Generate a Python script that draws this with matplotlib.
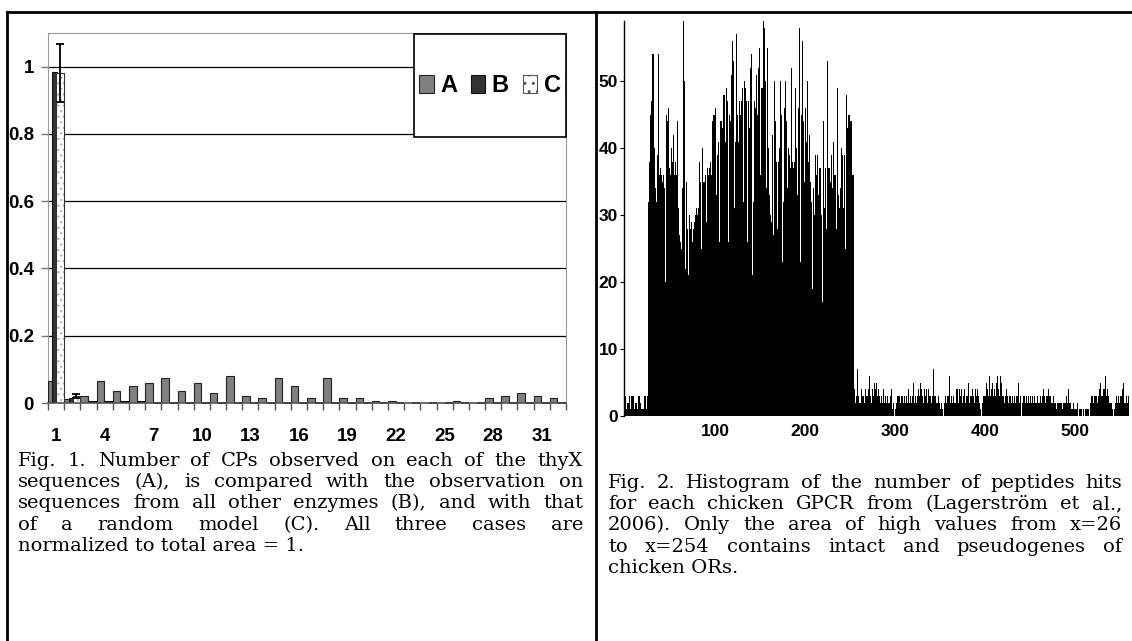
import matplotlib
matplotlib.use("Agg")
import matplotlib.pyplot as plt
import numpy as np
from matplotlib.patches import Rectangle, Patch
from matplotlib.lines import Line2D

W, H = 1132, 641
sans = ['Liberation Sans', 'DejaVu Sans']
serif = ['DejaVu Serif']

# ---- Fig. 1 data (normalized CP counts per sequence position) ----
categories = list(range(1, 33))
series_a = [0.065, 0.012, 0.022, 0.065, 0.037, 0.052, 0.058, 0.073, 0.037, 0.058,
            0.030, 0.081, 0.022, 0.014, 0.073, 0.052, 0.014, 0.073, 0.014, 0.014,
            0.007, 0.007, 0.0, 0.0, 0.0, 0.007, 0.0, 0.014, 0.022, 0.030,
            0.022, 0.014]
series_b = [0.985, 0.015] + [0.0] * 30
series_c = [0.98, 0.02, 0.003, 0.003, 0.003, 0.003] + [0.0] * 26
c_err_low = [0.085, 0.006] + [0.0] * 30
c_err_high = [0.087, 0.006] + [0.0] * 30
y_ticks1 = [0, 0.2, 0.4, 0.6, 0.8, 1.0]
y_labels1 = ['0', '0.2', '0.4', '0.6', '0.8', '1']
x_labels1 = [1, 4, 7, 10, 13, 16, 19, 22, 25, 28, 31]

# ---- Fig. 2 data (peptide hits per chicken GPCR) ----
counts_head = [3, 1, 2, 2, 3, 1, 3, 3, 2, 3, 1, 2, 2, 1, 3, 3, 2, 1, 2, 1,
               1, 3, 3, 1, 3]
counts_or = [
    32, 38, 45, 46, 47, 54, 54, 40, 34, 32,
    39, 54, 36, 38, 37, 36, 35, 36, 34, 20,
    45, 44, 46, 47, 37, 36, 40, 38, 42, 36,
    38, 36, 44, 36, 31, 27, 26, 25, 34, 59,
    50, 22, 35, 28, 28, 21, 30, 28, 29, 26,
    28, 29, 30, 16, 31, 30, 31, 38, 35, 25, 40, 35,
    35, 37, 36, 29, 37, 36, 37, 38, 36, 44,
    45, 41, 45, 46, 33, 39, 41, 26, 44, 44,
    43, 39, 48, 48, 41, 49, 47, 26, 45, 44,
    51, 50, 56, 53, 31, 41, 57, 45, 41, 47,
    45, 26, 47, 49, 32, 50, 49, 47, 26, 47,
    43, 52, 52, 54, 21, 32, 47, 46, 51, 45,
    52, 47, 55, 36, 49, 49, 59, 58, 50, 34,
    55, 30, 40, 33, 30, 29, 42, 27, 50, 44,
    38, 52, 28, 38, 40, 50, 45, 23, 32, 46,
    50, 47, 44, 34, 40, 39, 37, 52, 38, 37,
    38, 31, 49, 40, 33, 46, 58, 23, 45, 56,
    44, 40, 35, 46, 41, 50, 38, 42, 35, 32,
    19, 32, 34, 30, 39, 36, 39, 33, 37, 37,
    30, 50, 17, 44, 31, 37, 28, 53, 37, 37,
    35, 31, 39, 34, 41, 36, 36, 28, 49, 33,
    31, 34, 34, 40, 39, 31, 39, 25, 48, 43,
    45, 45, 45, 44, 44, 36, 36]
counts_tail = [
    4, 2, 3, 7, 2, 3, 2, 2, 4, 3,
    3, 2, 4, 3, 4, 3, 4, 6, 3, 2,
    4, 3, 5, 4, 2, 5, 3, 4, 3, 2,
    3, 2, 4, 2, 5, 3, 2, 3, 2, 2,
    3, 4, 1, 2, 2, 0, 1, 2, 3, 3,
    3, 2, 3, 3, 4, 2, 3, 2, 3, 2,
    4, 2, 3, 2, 3, 3, 5, 2, 3, 2,
    3, 4, 3, 5, 2, 4, 3, 2, 4, 3,
    4, 2, 4, 3, 2, 3, 2, 3, 7, 3,
    3, 2, 2, 3, 2, 2, 1, 2, 1, 0,
    2, 3, 2, 3, 2, 3, 6, 2, 3, 2,
    3, 2, 2, 4, 3, 4, 2, 4, 3, 4,
    2, 3, 4, 2, 3, 2, 3, 5, 2, 3,
    3, 4, 3, 2, 4, 2, 3, 4, 3, 2,
    1, 0, 2, 3, 3, 2, 3, 5, 4, 3,
    6, 3, 4, 5, 3, 6, 4, 3, 5, 6,
    4, 3, 6, 5, 3, 4, 3, 2, 3, 4,
    3, 2, 3, 3, 2, 6, 3, 2, 3, 2,
    3, 3, 5, 2, 3, 2, 0, 2, 3, 3,
    2, 3, 2, 3, 2, 2, 3, 2, 3, 2,
    3, 2, 2, 3, 2, 3, 2, 3, 2, 3,
    4, 3, 2, 3, 3, 2, 4, 3, 3, 2,
    2, 3, 2, 2, 1, 0, 2, 2, 2, 2,
    2, 1, 2, 2, 2, 1, 3, 2, 4, 2,
    2, 1, 1, 2, 1, 2, 1, 1, 2, 0,
    1, 1, 1, 0, 1, 1, 0, 1, 1, 1,
    1, 0, 2, 3, 3, 3, 2, 3, 3, 3,
    2, 3, 4, 5, 3, 4, 3, 4, 4, 6,
    3, 4, 3, 2, 2, 3, 2, 1, 0, 1,
    2, 3, 2, 3, 2, 3, 3, 3, 4, 5,
    2, 2, 3, 2, 3]
x_ticks2 = [100, 200, 300, 400, 500]
y_ticks2 = [0, 10, 20, 30, 40, 50]

caption1 = ["Fig. 1. Number of CPs observed on each of the thyX",
            "sequences (A), is compared with the observation on",
            "sequences from all other enzymes (B), and with that",
            "of a random model (C). All three cases are",
            "normalized to total area = 1."]
caption2 = ["Fig. 2. Histogram of the number of peptides hits",
            "for each chicken GPCR from (Lagerström et al.,",
            "2006). Only the area of high values from x=26",
            "to x=254 contains intact and pseudogenes of",
            "chicken ORs."]

fig = plt.figure(figsize=(W / 100, H / 100), dpi=100)

# ---------------- left chart ----------------
ax1 = fig.add_axes([48 / W, 1 - 403 / H, 518 / W, 370 / H])
x = np.array(categories, dtype=float)
ax1.bar(x - 0.265, series_a, 0.47, color='#808080', edgecolor='#222222', linewidth=0.8, zorder=3)
ax1.bar(x - 0.09, series_b, 0.28, color='#333333', edgecolor='#111111', linewidth=0.8, zorder=3.1)
ax1.bar(x + 0.255, series_c, 0.47, color='white', edgecolor='#bbbbbb', hatch='...', linewidth=0, zorder=3.2)
ax1.bar(x + 0.255, series_c, 0.47, fill=False, edgecolor='#333333', linewidth=0.8, zorder=3.3)
ax1.errorbar(x + 0.255, series_c, yerr=[c_err_low, c_err_high], fmt='none', ecolor='black',
             elinewidth=1.3, capsize=3, capthick=1.3, zorder=4)
for yv in y_ticks1[1:]:
    ax1.axhline(yv, color='black', linewidth=0.9, zorder=1)
ax1.set_xlim(0.5, 32.5)
ax1.set_ylim(0, 1.1)
ax1.set_yticks(y_ticks1)
ax1.set_yticklabels(y_labels1)
ax1.set_xticks(x_labels1)
ax1.set_xticks(np.arange(0.5, 33.0, 1.0), minor=True)
ax1.tick_params(axis='x', which='major', length=0, pad=18)
ax1.tick_params(axis='x', which='minor', length=5, width=1, color='#555555', direction='out')
ax1.tick_params(axis='y', length=5, width=1, color='#777777', direction='out', pad=5)
for lab in ax1.get_xticklabels() + ax1.get_yticklabels():
    lab.set_family(sans)
    lab.set_fontweight('bold')
    lab.set_fontsize(13.5)
for side in ['top', 'right', 'left']:
    ax1.spines[side].set_color('#999999')
    ax1.spines[side].set_linewidth(0.8)
ax1.spines['bottom'].set_color('#555555')
ax1.spines['bottom'].set_linewidth(1.2)
ax1.spines['bottom'].set_zorder(5)

leg_box = Rectangle((0.7066, 0.719), 0.2934, 0.278, transform=ax1.transAxes,
                    facecolor='white', edgecolor='black', linewidth=1.2, zorder=6, clip_on=False)
ax1.add_patch(leg_box)
handles = [Patch(facecolor='#808080', edgecolor='#222222', linewidth=0.8),
           Patch(facecolor='#333333', edgecolor='#111111', linewidth=0.8),
           Patch(facecolor='white', edgecolor='#555555', hatch='..', linewidth=0.8)]
leg = ax1.legend(handles, ['A', 'B', 'C'], ncol=3, frameon=False, loc='center',
                 bbox_to_anchor=(0.7066 + 0.1467, 0.719 + 0.139),
                 prop={'family': sans, 'weight': 'bold', 'size': 17},
                 handlelength=0.6, handleheight=0.8, handletextpad=0.27, columnspacing=0.6,
                 borderpad=0.2)
leg.set_zorder(7)

# ---------------- right chart ----------------
counts = counts_head + counts_or + counts_tail
gpcr = np.arange(1, len(counts) + 1)
ax2 = fig.add_axes([623.5 / W, 1 - 416 / H, 505.5 / W, 395 / H])
ax2.bar(gpcr, counts, width=1.0, color='black', linewidth=0)
ax2.set_xlim(-1.5, 560)
ax2.set_ylim(0, 59)
ax2.set_xticks(x_ticks2)
ax2.set_yticks(y_ticks2)
ax2.tick_params(axis='x', length=0, pad=6)
ax2.tick_params(axis='y', length=3, width=0.8, direction='out', pad=1)
for lab in ax2.get_xticklabels() + ax2.get_yticklabels():
    lab.set_family(sans)
    lab.set_fontweight('bold')
    lab.set_fontsize(12.5)
for side in ['top', 'right', 'bottom']:
    ax2.spines[side].set_visible(False)
ax2.spines['left'].set_linewidth(1.0)

# ---------------- table frame ----------------
fig.add_artist(Line2D([7 / W, 1], [1 - 12 / H, 1 - 12 / H], color='black', linewidth=2))
fig.add_artist(Line2D([7 / W, 7 / W], [0, 1 - 12 / H], color='black', linewidth=2))
fig.add_artist(Line2D([596 / W, 596 / W], [0, 1 - 12 / H], color='black', linewidth=2))

# ---------------- captions (justified) ----------------
renderer = fig.canvas.get_renderer()


def put_caption(lines, x0, x1, y0, dy):
    for i, line in enumerate(lines):
        y = 1 - (y0 + i * dy) / H
        if i == len(lines) - 1:
            fig.text(x0 / W, y, line, family=serif, fontsize=14, va='center', ha='left')
            continue
        words = line.split(' ')
        texts = [fig.text(0, y, w, family=serif, fontsize=14, va='center', ha='left')
                 for w in words]
        widths = [t.get_window_extent(renderer).width for t in texts]
        gap = (x1 - x0 - sum(widths)) / (len(words) - 1)
        xp = x0
        for t, wd in zip(texts, widths):
            t.set_x(xp / W)
            xp += wd + gap


put_caption(caption1, 18, 583, 461, 21.2)
put_caption(caption2, 608, 1122, 483, 21.2)

fig.savefig('out.png', dpi=100)
